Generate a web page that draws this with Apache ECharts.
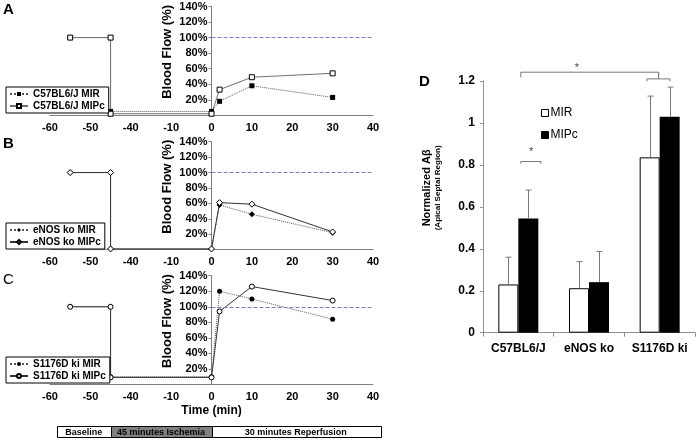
<!DOCTYPE html>
<html><head><meta charset="utf-8">
<script src="https://cdn.jsdelivr.net/npm/echarts@6/dist/echarts.min.js"></script>
<style>html,body{margin:0;padding:0;background:#fff}#c{width:699px;height:441px}</style>
</head><body><div id="c"></div>
<script>
// ---------- data ----------
const timeTicks = [-60, -50, -40, -10, 0, 10, 20, 30, 40];
const times = [-55, -45, -45, 0, 2, 10, 30];
const aMIR  = [100, 100, 5, 5, 18, 38, 23];
const aMIPc = [100, 100, 2, 2, 33, 49, 54];
const bMIR  = [100, 100, 1, 1, 58, 46, 22];
const bMIPc = [100, 100, 1, 1, 61, 59, 23];
const cMIR  = [100, 100, 10, 10, 120, 110, 84];
const cMIPc = [100, 100, 9, 9, 94, 126, 108];
const refLevel = 100;
const refTimes = [0, 40];
const phaseNames = ['Baseline', '45 minutes Ischemia', '30 minutes Reperfusion'];
const phaseBounds = [-45, 0];

const groups = ['C57BL6/J', 'eNOS ko', 'S1176D ki'];
const abMIR  = [0.23, 0.212, 0.836];
const abMIPc = [0.545, 0.241, 1.029];
const errMIR  = [0.13, 0.127, 0.292];
const errMIPc = [0.135, 0.146, 0.142];

const FONT = "'Liberation Sans', Arial, sans-serif";
const BAR_W = 20;
const GRID_L = 50, GRID_R = 326, CHART_W = 699;

// piecewise (broken) time scale: evenly spaced tick labels
function toAxis(t) {
  for (let i = 0; i < timeTicks.length - 1; i++) {
    if (t <= timeTicks[i + 1] || i === timeTicks.length - 2)
      return i - 4 + (t - timeTicks[i]) / (timeTicks[i + 1] - timeTicks[i]);
  }
}
// y axis sits at time 0: shift it inward from the grid's left edge
const yOffset = -(CHART_W - GRID_L - GRID_R) * (toAxis(0) + 4) / 8;

const panels = [
  {pre: 'C57BL6/J', mir: aMIR, mipc: aMIPc, sym: 'rect', size: 5, top: 6.5, bottom: 325.7, leg: 87, solid: '#707070'},
  {pre: 'eNOS ko', mir: bMIR, mipc: bMIPc, sym: 'diamond', size: 6, top: 141.7, bottom: 191.3, leg: 223, solid: '#333'},
  {pre: 'S1176D ki', mir: cMIR, mipc: cMIPc, sym: 'circle', size: 5, top: 275.7, bottom: 56.6, leg: 357, solid: '#333'}
];

const grid = [], xAxis = [], yAxis = [], series = [], legend = [];
panels.forEach((p, i) => {
  grid.push({left: GRID_L, right: GRID_R, top: p.top, bottom: p.bottom, outerBoundsMode: 'none'});
  xAxis.push({
    type: 'value', gridIndex: i, min: -4, max: 4, interval: 1,
    axisLine: {onZero: false, lineStyle: {color: '#808080'}}, axisTick: {show: false}, splitLine: {show: false},
    axisLabel: {formatter: v => String(timeTicks[Math.round(v) + 4]), fontWeight: 'bold', fontSize: 11, color: '#000', margin: 7, fontFamily: FONT},
    name: i === 2 ? 'Time (min)' : '', nameLocation: 'middle', nameGap: 20,
    nameTextStyle: {fontWeight: 'bold', fontSize: 12, color: '#000', fontFamily: FONT}
  });
  yAxis.push({
    type: 'value', gridIndex: i, min: 0, max: 140, interval: 20, position: 'left', offset: yOffset,
    axisLine: {show: true, onZero: false, lineStyle: {color: '#808080'}},
    axisTick: {show: true, length: 3, lineStyle: {color: '#808080'}}, splitLine: {show: false},
    axisLabel: {formatter: v => v === 0 ? '' : v + '%', fontWeight: 'bold', fontSize: 11, color: '#000', margin: 4, fontFamily: FONT},
    name: 'Blood Flow (%)', nameLocation: 'middle', nameRotate: 90, nameGap: 38,
    nameTextStyle: {fontWeight: 'bold', fontSize: 13, color: '#000', fontFamily: FONT, padding: [0, 0, 0, 18]}
  });
  series.push({
    type: 'line', name: p.pre + ' MIR', xAxisIndex: i, yAxisIndex: i,
    data: times.map((t, k) => [toAxis(t), p.mir[k]]),
    symbol: p.sym, symbolSize: p.size, showAllSymbol: true,
    itemStyle: {color: '#000'}, lineStyle: {color: '#555', width: 1, type: 'dotted'}
  });
  series.push({
    type: 'line', name: p.pre + ' MIPc', xAxisIndex: i, yAxisIndex: i,
    data: times.map((t, k) => [toAxis(t), p.mipc[k]]),
    symbol: p.sym, symbolSize: p.size, showAllSymbol: true,
    itemStyle: {color: '#fff', borderColor: '#000', borderWidth: 1},
    lineStyle: {color: p.solid, width: 1, type: 'solid'},
    markLine: {silent: true, symbol: 'none', label: {show: false},
      lineStyle: {color: '#7a7ad0', type: 'dashed', width: 1},
      data: [[{coord: [toAxis(refTimes[0]), refLevel]}, {coord: [toAxis(refTimes[1]), refLevel]}]]}
  });
  legend.push({
    data: [p.pre + ' MIR', p.pre + ' MIPc'], orient: 'vertical', left: 6, top: p.leg,
    itemWidth: 18, itemHeight: 5, itemGap: 2, padding: [2, 4, 2, 3],
    borderColor: '#000', borderWidth: 1, backgroundColor: '#fff', selectedMode: false,
    textStyle: {fontWeight: 'bold', fontSize: 10, color: '#000', fontFamily: FONT}
  });
});

// panel D
grid.push({left: 483, right: 4, top: 81, bottom: 108.3, outerBoundsMode: 'none'});
xAxis.push({
  type: 'category', gridIndex: 3, data: groups,
  axisLine: {lineStyle: {color: '#909090'}}, axisTick: {show: true, length: 4, lineStyle: {color: '#909090'}},
  axisLabel: {interval: 0, hideOverlap: false, fontWeight: 'bold', fontSize: 12, color: '#000', margin: 10, fontFamily: FONT}
});
yAxis.push({
  type: 'value', gridIndex: 3, min: 0, max: 1.2, interval: 0.2,
  axisLine: {show: true, lineStyle: {color: '#909090'}}, axisTick: {show: true, length: 3, lineStyle: {color: '#909090'}},
  splitLine: {show: false},
  axisLabel: {formatter: v => String(+v.toFixed(1)), fontWeight: 'bold', fontSize: 12, color: '#000', margin: 8, fontFamily: FONT},
  name: '{a|Normalized Aβ}\n{b|(Apical Septal Region)}', nameLocation: 'middle', nameRotate: 90, nameGap: 40,
  nameTextStyle: {fontFamily: FONT, color: '#000', padding: [0, 0, 0, 38],
    rich: {a: {fontSize: 11, fontWeight: 'bold', lineHeight: 12, fontFamily: FONT, color: '#000'},
           b: {fontSize: 8, fontWeight: 'bold', lineHeight: 10, fontFamily: FONT, color: '#000'}}}
});
series.push({type: 'bar', name: 'MIR', xAxisIndex: 3, yAxisIndex: 3, data: abMIR, barWidth: BAR_W, barGap: '0%',
  itemStyle: {color: '#fff', borderColor: '#000', borderWidth: 1}});
series.push({type: 'bar', name: 'MIPc', xAxisIndex: 3, yAxisIndex: 3, data: abMIPc, barWidth: BAR_W, barGap: '0%',
  itemStyle: {color: '#000'}});
const errData = [];
groups.forEach((g, i) => { errData.push([i, abMIR[i], errMIR[i], -1]); errData.push([i, abMIPc[i], errMIPc[i], 1]); });
series.push({
  type: 'custom', xAxisIndex: 3, yAxisIndex: 3, data: errData, z: 3, silent: true,
  renderItem: (params, api) => {
    const c = api.value(0), v = api.value(1), e = api.value(2), side = api.value(3);
    const b = api.coord([c, v]), t = api.coord([c, v + e]);
    const x = Math.round(b[0] + side * BAR_W / 2) + 0.5;
    const st = {stroke: '#777', lineWidth: 1};
    return {type: 'group', children: [
      {type: 'line', shape: {x1: x, y1: b[1], x2: x, y2: t[1]}, style: st},
      {type: 'line', shape: {x1: x - 3, y1: t[1], x2: x + 3, y2: t[1]}, style: st}
    ]};
  }
});
legend.push({
  data: ['MIR', 'MIPc'], orient: 'vertical', left: 536, top: 102, icon: 'rect',
  itemWidth: 7, itemHeight: 7, itemGap: 10, selectedMode: false,
  itemStyle: {borderColor: '#000', borderWidth: 1},
  textStyle: {fontSize: 12, color: '#000', fontFamily: FONT, padding: [0, 0, 0, -3]}
});

const chart = echarts.init(document.getElementById('c'), null, {renderer: 'canvas'});
chart.setOption({
  animation: false,
  textStyle: {fontFamily: FONT},
  title: [
    {text: 'A', left: 3, top: 2, padding: 0, textStyle: {fontSize: 15, fontWeight: 'bold', color: '#000', fontFamily: FONT}},
    {text: 'B', left: 3, top: 136, padding: 0, textStyle: {fontSize: 15, fontWeight: 'bold', color: '#000', fontFamily: FONT}},
    {text: 'C', left: 3, top: 272, padding: 0, textStyle: {fontSize: 15, fontWeight: 'normal', color: '#000', fontFamily: FONT}},
    {text: 'D', left: 419, top: 74, padding: 0, textStyle: {fontSize: 15, fontWeight: 'bold', color: '#000', fontFamily: FONT}}
  ],
  grid, xAxis, yAxis, series, legend
});

// annotations: phase bar under panel C, significance brackets on D
const px = t => chart.convertToPixel({xAxisIndex: 2, yAxisIndex: 2}, [toAxis(t), 0])[0];
const b1 = px(phaseBounds[0]), b2 = px(phaseBounds[1]);
const barL = 57, barR = 380, barT = 426, barH = 11;
const segs = [[barL, b1, '#fff'], [b1, b2, '#808080'], [b2, barR, '#fff']];
const graphic = [];
segs.forEach((s, i) => {
  graphic.push({type: 'rect', shape: {x: Math.round(s[0]) + 0.5, y: barT + 0.5, width: Math.round(s[1] - s[0]), height: barH},
    style: {fill: s[2], stroke: '#000', lineWidth: 1}});
  graphic.push({type: 'text', x: (s[0] + s[1]) / 2, y: barT + barH / 2 + 1,
    style: {text: phaseNames[i], font: 'bold 9px ' + FONT, fill: '#000', align: 'center', verticalAlign: 'middle'}});
});

const dp = (c, v) => chart.convertToPixel({xAxisIndex: 3, yAxisIndex: 3}, [c, v]);
const band = dp(1, 0)[0] - dp(0, 0)[0];
const P = (c, off, v) => { const q = dp(c, v); return [q[0] + off * band, q[1]]; };
const brSt = {stroke: '#777', lineWidth: 1, fill: 'none'};
function bracket(c1, o1, c2, o2, y, yd) {
  const a = P(c1, o1, y), b = P(c2, o2, y), ad = P(c1, o1, yd), bd = P(c2, o2, yd);
  graphic.push({type: 'polyline', shape: {points: [[ad[0], ad[1]], [a[0], a[1]], [b[0], b[1]], [bd[0], bd[1]]]}, style: brSt});
}
function star(c, o, y) {
  const q = P(c, o, y);
  graphic.push({type: 'text', x: q[0], y: q[1], style: {text: '*', font: '11px ' + FONT, fill: '#444', align: 'center', verticalAlign: 'middle'}});
}
bracket(0, 0.035, 0, 0.32, 0.816, 0.806);
star(0, 0.18, 0.862);
bracket(2, -0.18, 2, 0.145, 1.21, 1.198);
bracket(0, 0.035, 2, -0.015, 1.242, 1.217);
{
  const a = P(2, -0.015, 1.242), b = P(2, -0.015, 1.21);
  graphic.push({type: 'line', shape: {x1: a[0], y1: a[1], x2: b[0], y2: b[1]}, style: brSt});
}
star(1, -0.17, 1.262);
chart.setOption({graphic});
</script></body></html>
